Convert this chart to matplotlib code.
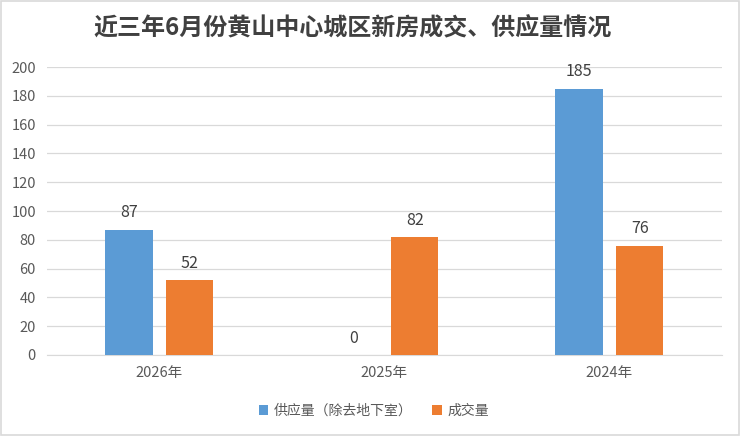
import matplotlib
matplotlib.use("Agg")
import matplotlib.pyplot as plt
import numpy as np
from matplotlib.patches import Rectangle

plt.rcParams['font.family'] = ['Noto Sans CJK SC', 'DejaVu Sans']

categories = ["2026年", "2025年", "2024年"]
supply = [87, 0, 185]
deals = [52, 82, 76]
series_names = ["供应量（除去地下室）", "成交量"]
yticks = [0, 20, 40, 60, 80, 100, 120, 140, 160, 180, 200]
title = "近三年6月份黄山中心城区新房成交、供应量情况"

blue = "#5B9BD5"
orange = "#ED7D31"
txt = "#595959"

fig = plt.figure(figsize=(7.4, 4.36), dpi=100)
ax = fig.add_axes([0.0635, 0.186, 0.912, 0.660])

x = np.arange(len(categories))
w = 0.21
off = 0.135
b1 = ax.bar(x - off, supply, w, color=blue, label=series_names[0], zorder=3)
b2 = ax.bar(x + off, deals, w, color=orange, label=series_names[1], zorder=3)

for bars, vals in ((b1, supply), (b2, deals)):
    for r, v in zip(bars, vals):
        ax.annotate(f"{v}", (r.get_x() + r.get_width() / 2, v), xytext=(0, 6),
                    textcoords="offset points", ha="center", va="bottom",
                    fontsize=11.5, color="#404040")

ax.set_xlim(-0.5, len(categories) - 0.5)
ax.set_ylim(0, 200)
ax.set_yticks(yticks)
ax.set_xticks(x)
ax.set_xticklabels(categories)
ax.tick_params(axis='both', length=0, labelsize=10.5, colors=txt)
ax.tick_params(axis='x', pad=8)
ax.tick_params(axis='y', pad=8)
ax.grid(axis='y', color="#D9D9D9", linewidth=0.9, zorder=0)
for s in ["top", "right", "left"]:
    ax.spines[s].set_visible(False)
ax.spines["bottom"].set_color("#D9D9D9")

fig.text(0.477, 0.935, title, ha="center", va="center", fontsize=17.3,
         fontweight="bold", color="#404040")

leg = fig.legend(handles=[b1, b2], labels=series_names, loc="center",
                 bbox_to_anchor=(0.505, 0.058), ncol=2, frameon=False,
                 fontsize=10, handlelength=0.7, handleheight=0.7,
                 columnspacing=1.4, handletextpad=0.4)
for t in leg.get_texts():
    t.set_color(txt)

fig.patches.append(Rectangle((0.002, 0.003), 0.996, 0.994, transform=fig.transFigure,
                             fill=False, edgecolor="#D9D9D9", linewidth=1.2))

fig.savefig("out.png", dpi=100)
